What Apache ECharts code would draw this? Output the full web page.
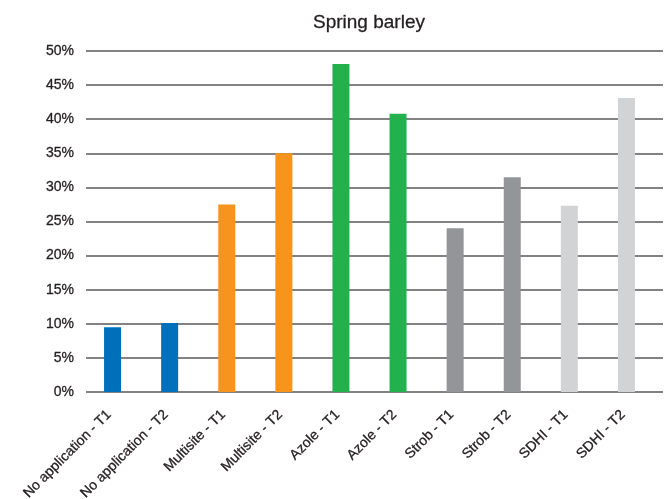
<!DOCTYPE html>
<html>
<head>
<meta charset="utf-8">
<style>
  html, body { margin: 0; padding: 0; background: #fff; }
  #chart { width: 665px; height: 499px; }
</style>
<script src="https://cdn.jsdelivr.net/npm/echarts@6/dist/echarts.min.js"></script>
</head>
<body>
<div id="chart"></div>
<script>
// Fungicide treatment groups, spring barley
const categories = [
  'No application - T1', 'No application - T2',
  'Multisite - T1', 'Multisite - T2',
  'Azole - T1', 'Azole - T2',
  'Strob - T1', 'Strob - T2',
  'SDHI - T1', 'SDHI - T2'
];
const values = [9.5, 10.1, 27.5, 35.0, 48.1, 40.8, 24.0, 31.5, 27.3, 43.1];
const groupColors = [
  '#0070BB', '#0070BB',
  '#F7941E', '#F7941E',
  '#23B14D', '#23B14D',
  '#939598', '#939598',
  '#D1D3D4', '#D1D3D4'
];
const yMin = 0, yMax = 50, yStep = 5;

const font = '"Liberation Sans", Arial, Helvetica, sans-serif';
const ink = '#231F20';
// slightly heavier than regular weight
const textWeight = { fontFamily: font, fontWeight: 'normal', color: ink, textBorderColor: ink, textBorderWidth: 0.3 };

const chart = echarts.init(document.getElementById('chart'), null, { renderer: 'canvas' });

chart.setOption({
  animation: false,
  title: {
    text: 'Spring barley',
    left: 308, top: 8,
    textStyle: Object.assign({ fontSize: 19 }, textWeight)
  },
  grid: [
    // bars
    { left: 84, right: 10, top: 51, bottom: 107, containLabel: false, outerBoundsMode: 'none' },
    // gridlines and value labels
    { left: 86, right: 2, top: 51, bottom: 107, containLabel: false, outerBoundsMode: 'none' }
  ],
  xAxis: [
    {
      type: 'category', gridIndex: 0, data: categories,
      axisLine: { show: false }, axisTick: { show: false },
      axisLabel: Object.assign({ interval: 0, rotate: 45, margin: 17, padding: [0, 5, 0, 0], fontSize: 14 }, textWeight)
    },
    {
      type: 'value', gridIndex: 1, show: false, min: 0, max: 1
    }
  ],
  yAxis: [
    {
      type: 'value', gridIndex: 0, min: yMin, max: yMax, interval: yStep,
      axisLine: { show: false }, axisTick: { show: false },
      axisLabel: { show: false }, splitLine: { show: false }
    },
    {
      type: 'value', gridIndex: 1, min: yMin, max: yMax, interval: yStep,
      axisLine: { show: false }, axisTick: { show: false },
      axisLabel: Object.assign({ margin: 12, fontSize: 14, formatter: v => v + '%' }, textWeight),
      splitLine: { show: true, lineStyle: { color: '#58595B', width: 1.5 } }
    }
  ],
  series: [
    {
      type: 'bar', xAxisIndex: 0, yAxisIndex: 0, barWidth: 17, z: 1,
      data: values.map((v, i) => ({ value: v, itemStyle: { color: groupColors[i] } }))
    }
  ]
});
</script>
</body>
</html>
